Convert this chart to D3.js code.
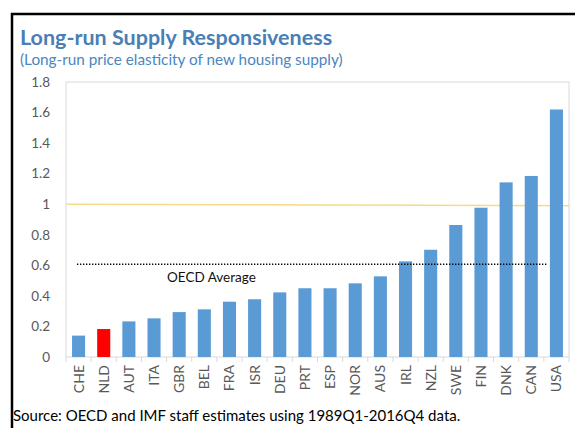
<!DOCTYPE html>
<html><head><meta charset="utf-8">
<script src="https://cdn.jsdelivr.net/npm/d3@7"></script>
<style>body{margin:0;background:#fff}svg{display:block}</style>
</head><body>
<script>
const categories = ["CHE","NLD","AUT","ITA","GBR","BEL","FRA","ISR","DEU","PRT","ESP","NOR","AUS","IRL","NZL","SWE","FIN","DNK","CAN","USA"];
const values = [0.14,0.183,0.233,0.253,0.294,0.312,0.362,0.378,0.423,0.45,0.45,0.482,0.528,0.626,0.702,0.864,0.977,1.143,1.185,1.62];
const highlight = ["NLD"];
const yTicks = [0,0.2,0.4,0.6,0.8,1,1.2,1.4,1.6,1.8];
const oecdAverage = 0.607;
const unitLine = [1.0, 0.99];
const title = "Long-run Supply Responsiveness";
const subtitle = "(Long-run price elasticity of new housing supply)";
const source = "Source: OECD and IMF staff estimates using 1989Q1-2016Q4 data.";

const W = 575, H = 428;
const m = {left:66, right:6, top:82, bottom:71};
const svg = d3.select("body").append("svg").attr("width",W).attr("height",H);
const font = "Lato, 'Open Sans', sans-serif";

// outer frame
svg.append("path").attr("d",`M12,${H} L12,14 L${W},14`).attr("fill","none").attr("stroke","#000").attr("stroke-width",2.5);

const x = d3.scaleBand().domain(categories).range([m.left, W-m.right]).paddingInner(0.48).paddingOuter(0.24);
const y = d3.scaleLinear().domain([0,1.8]).range([H-m.bottom, m.top]);

// plot area border
svg.append("rect").attr("x",m.left).attr("y",m.top).attr("width",W-m.right-m.left).attr("height",H-m.bottom-m.top)
  .attr("fill","none").attr("stroke","#d9d9d9").attr("stroke-width",1);

// category separator ticks
const bounds = d3.range(categories.length+1).map(i => m.left + (W-m.right-m.left)*i/categories.length);
svg.append("g").selectAll("line").data(bounds).join("line")
  .attr("x1",d=>d).attr("x2",d=>d).attr("y1",y(0)).attr("y2",y(0)+5)
  .attr("stroke","#d9d9d9");

// y tick labels
svg.append("g").selectAll("text").data(yTicks).join("text")
  .attr("x",50).attr("y",d=>y(d)).attr("dy","0.35em").attr("text-anchor","end")
  .attr("font-family",font).attr("font-size",13.5).attr("fill","#595959")
  .text(d=>d3.format("")(d));

// yellow line at 1
svg.append("line").attr("x1",m.left+1).attr("x2",W-m.right).attr("y1",y(unitLine[0])).attr("y2",y(unitLine[1]))
  .attr("stroke","#f7d986").attr("stroke-width",1.5);

// bars
svg.append("g").selectAll("rect").data(categories).join("rect")
  .attr("x",d=>x(d)).attr("width",x.bandwidth())
  .attr("y",(d,i)=>y(values[i])).attr("height",(d,i)=>y(0)-y(values[i]))
  .attr("fill",d=>highlight.includes(d)?"#ff0000":"#5b9bd5");

// OECD average dotted line
svg.append("line").attr("x1",x(categories[0])+5).attr("x2",x(categories[categories.length-1])-3)
  .attr("y1",y(oecdAverage)).attr("y2",y(oecdAverage))
  .attr("stroke","#000").attr("stroke-width",1.3).attr("stroke-dasharray","1.3,1.7");
svg.append("text").attr("x",x("ITA")+x.bandwidth()/2+13).attr("y",y(oecdAverage)+18)
  .attr("font-family",font).attr("font-size",13.5).attr("fill","#111").text("OECD Average");

// x labels
svg.append("g").selectAll("text").data(categories).join("text")
  .attr("transform",d=>`translate(${x(d)+x.bandwidth()/2+5},${y(0)+8}) rotate(-90)`)
  .attr("text-anchor","end").attr("font-family",font).attr("font-size",14).attr("fill","#595959")
  .text(d=>d);

// titles
svg.append("text").attr("x",20).attr("y",45).attr("font-family",font).attr("font-weight","bold")
  .attr("font-size",21.5).attr("fill","#4a7eb4").text(title);
svg.append("text").attr("x",20).attr("y",65).attr("font-family",font)
  .attr("font-size",15.3).attr("fill","#4a86c0").text(subtitle);
svg.append("text").attr("x",13).attr("y",421).attr("font-family",font)
  .attr("font-size",15).attr("fill","#000").text(source);
</script>
</body></html>
